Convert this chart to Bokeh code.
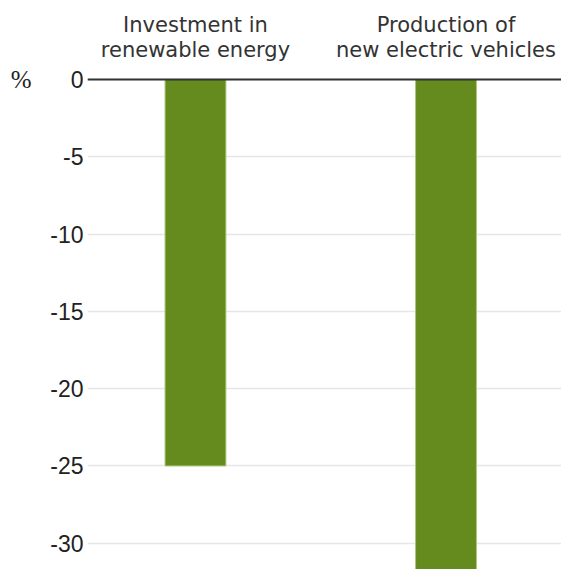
from bokeh.plotting import figure
from bokeh.models import FixedTicker, Span, ColumnDataSource, Range1d, LinearAxis
from bokeh.core.properties import value
from bokeh.embed import file_html
from bokeh.resources import INLINE

categories = ["Investment in\nrenewable energy", "Production of\nnew electric vehicles"]
values = [-25, -32]
y_ticks = [0, -5, -10, -15, -20, -25, -30]
unit_label = "%"

xs = list(range(len(categories)))

p = figure(width=561, height=569, output_backend="svg", toolbar_location=None,
           x_range=Range1d(-0.431, 1.461), y_range=Range1d(-31.7, 5.11),
           min_border_left=87, min_border_right=0, min_border_top=0, min_border_bottom=0)
p.outline_line_color = None
p.background_fill_color = "white"
p.border_fill_color = "white"

p.xaxis.visible = False
p.xgrid.visible = False
p.yaxis.ticker = FixedTicker(ticks=y_ticks)
p.yaxis.major_label_overrides = {t: str(t) for t in y_ticks}
p.yaxis.axis_line_color = None
p.yaxis.major_tick_line_color = None
p.yaxis.minor_tick_line_color = None
p.yaxis.major_tick_out = 0
p.yaxis.major_tick_in = 0
p.yaxis.minor_tick_out = 0
p.yaxis.major_label_text_font = "Liberation Sans"
p.yaxis.major_label_text_font_size = "23px"
p.yaxis.major_label_text_color = "#222222"
p.yaxis.major_label_standoff = 4
p.ygrid.grid_line_color = "#e6e6e6"
p.ygrid.grid_line_width = 1.5

# unit label as an outer axis with a single tick at zero
unit_axis = LinearAxis(ticker=FixedTicker(ticks=[0]), major_label_overrides={0: unit_label},
                       axis_line_color=None, major_tick_line_color=None, minor_tick_line_color=None,
                       major_tick_out=0, major_tick_in=0, minor_tick_out=0,
                       major_label_text_font="Liberation Serif", major_label_text_font_size="25px",
                       major_label_text_color="#222222", major_label_standoff=16)
p.add_layout(unit_axis, "left")

src = ColumnDataSource(dict(x=xs, top=[0] * len(values), bottom=values))
p.vbar(x="x", top="top", bottom="bottom", width=0.243, source=src,
       fill_color="#658a1d", line_color="#a9c77a", line_width=1)

p.add_layout(Span(location=0, dimension="width", line_color="#333333", line_width=2))

# category labels, two lines each
line1 = [c.split("\n")[0] for c in categories]
line2 = [c.split("\n")[1] for c in categories]
lsrc = ColumnDataSource(dict(x=xs + xs, y=[3.55] * len(xs) + [1.92] * len(xs), t=line1 + line2))
p.text(x="x", y="y", text="t", source=lsrc, text_align="center", text_baseline="alphabetic",
       text_font=value("DejaVu Sans"), text_font_size="21px", text_color="#333333")

open("out.html", "w").write(file_html(p, INLINE))
